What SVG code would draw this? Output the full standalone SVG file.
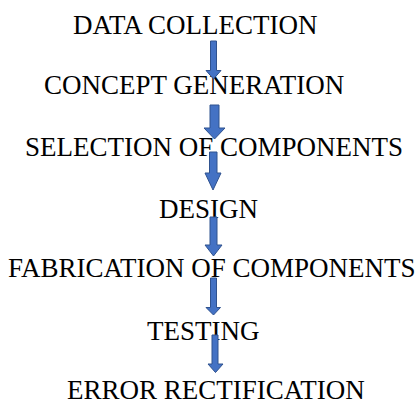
<svg xmlns="http://www.w3.org/2000/svg" width="420" height="403" viewBox="0 0 420 403">
  <style>
    .lbl { font-family: "Liberation Serif", "Times New Roman", serif; font-size: 27px; fill: #000000; }
    .arr { fill: #4472C4; stroke: #2F528F; stroke-width: 1; }
  </style>
  <rect width="420" height="403" fill="#ffffff"/>

  <!-- process steps -->
  <g id="step-data-collection"><text class="lbl" x="73" y="34">DATA COLLECTION</text></g>
  <g id="step-concept-generation"><text class="lbl" x="44" y="94">CONCEPT GENERATION</text></g>
  <g id="step-selection"><text class="lbl" x="25" y="156">SELECTION OF COMPONENTS</text></g>
  <g id="step-design"><text class="lbl" x="159" y="218">DESIGN</text></g>
  <g id="step-fabrication"><text class="lbl" x="8" y="277">FABRICATION OF COMPONENTS</text></g>
  <g id="step-testing"><text class="lbl" x="147" y="340">TESTING</text></g>
  <g id="step-error-rectification"><text class="lbl" x="67" y="398.5">ERROR RECTIFICATION</text></g>

  <!-- block arrows between steps -->
  <g id="connectors">
    <path class="arr" d="M210.5,41 H216.5 V70.5 H221 L213.5,79 L206,70.5 H210.5 Z"/>
    <path class="arr" d="M210,105 H219 V128 H225 L214.5,139 L204,128 H210 Z"/>
    <path class="arr" d="M209.5,152 H217 V173 H221 L213,190 L205,173 H209.5 Z"/>
    <path class="arr" d="M210,217 H217 V245 H222 L213.5,256 L205,245 H210 Z"/>
    <path class="arr" d="M210.5,278 H216.5 V307.5 H220.5 L213.5,315 L206,307.5 H210.5 Z"/>
    <path class="arr" d="M212,335 H218 V364 H223 L215.5,372.5 L208,364 H212 Z"/>
  </g>
</svg>
